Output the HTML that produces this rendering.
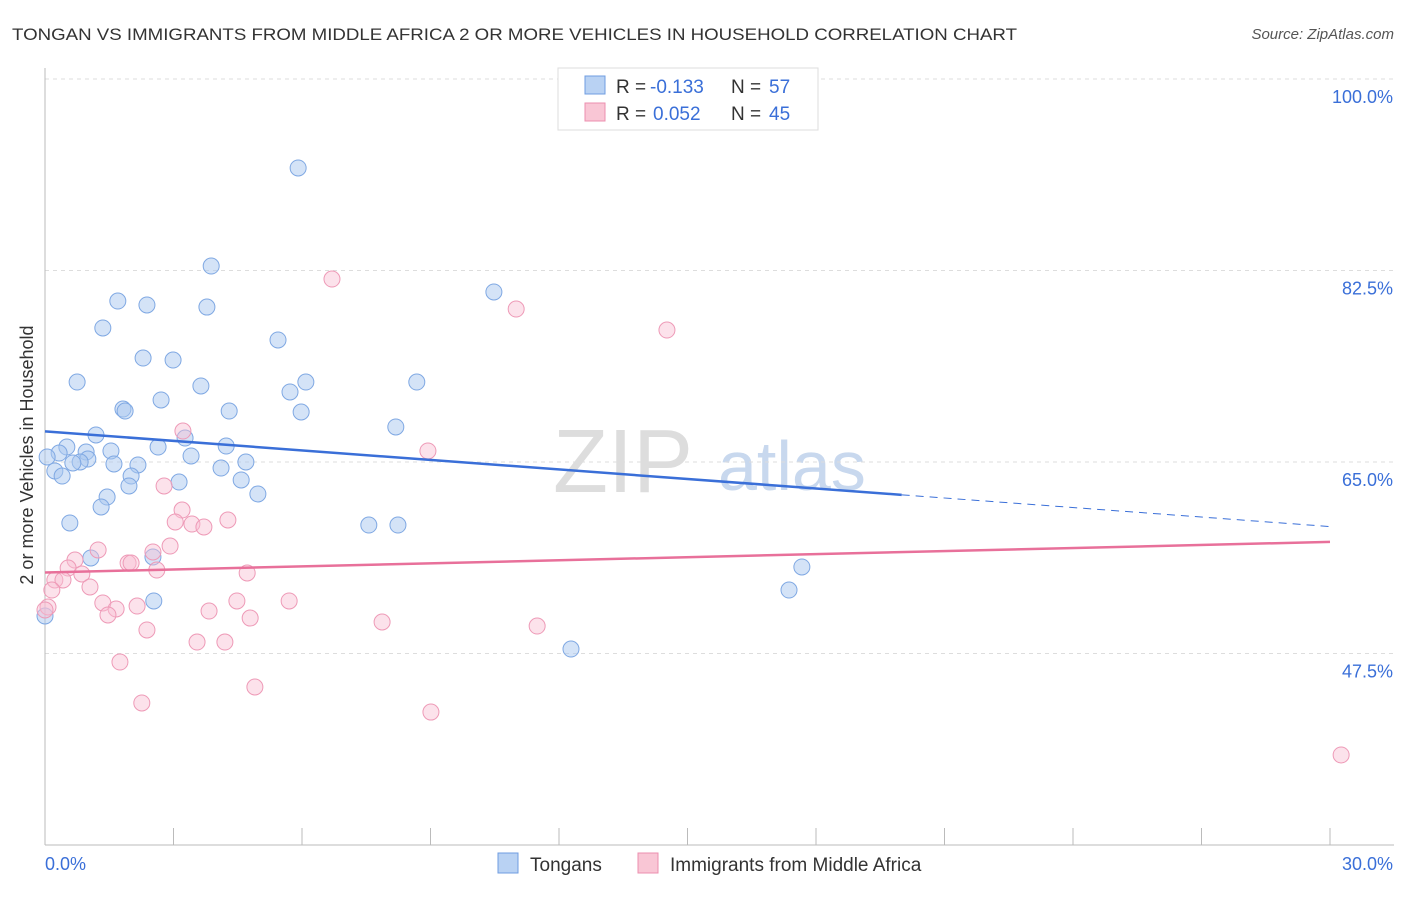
<!DOCTYPE html>
<html><head><meta charset="utf-8"><style>
body{margin:0;background:#fff;font-family:"Liberation Sans",sans-serif}
svg text{font-family:"Liberation Sans",sans-serif}
</style></head><body>
<svg width="1406" height="892">
<text x="12" y="40" font-size="17" fill="#333" textLength="1005" lengthAdjust="spacingAndGlyphs">TONGAN VS IMMIGRANTS FROM MIDDLE AFRICA 2 OR MORE VEHICLES IN HOUSEHOLD CORRELATION CHART</text>
<text x="1394" y="39" font-size="15" fill="#555" font-style="italic" text-anchor="end">Source: ZipAtlas.com</text>
<text x="553" y="492" font-size="90" fill="#ddd" font-family="Liberation Serif">ZIP</text>
<text x="718" y="490" font-size="70" fill="#c8d8ee">atlas</text>
<g id="grid"></g><g id="axes"></g><g id="pts"></g><g id="lines"></g>
<text transform="translate(33,455) rotate(-90)" font-size="18" fill="#333" text-anchor="middle">2 or more Vehicles in Household</text>
<text x="45" y="870" font-size="18" fill="#3a6fd8">0.0%</text>
<text x="1393" y="870" font-size="18" fill="#3a6fd8" text-anchor="end">30.0%</text>
<g>
<rect x="558" y="68" width="260" height="62" fill="#fff" stroke="#ddd"/>
<rect x="585" y="76" width="20" height="18" fill="#b9d2f3" stroke="#6f9ce0"/>
<rect x="585" y="103" width="20" height="18" fill="#f9c6d5" stroke="#ec8faf"/>
<text x="616" y="93" font-size="19" fill="#333">R =</text>
<text x="650" y="93" font-size="19" fill="#3a6fd8">-0.133</text>
<text x="731" y="93" font-size="19" fill="#333">N =</text>
<text x="769" y="93" font-size="19" fill="#3a6fd8">57</text>
<text x="616" y="120" font-size="19" fill="#333">R =</text>
<text x="653" y="120" font-size="19" fill="#3a6fd8">0.052</text>
<text x="731" y="120" font-size="19" fill="#333">N =</text>
<text x="769" y="120" font-size="19" fill="#3a6fd8">45</text>
</g>
<g>
<rect x="498" y="853" width="20" height="20" fill="#b9d2f3" stroke="#6f9ce0"/>
<text x="530" y="871" font-size="19" fill="#333">Tongans</text>
<rect x="638" y="853" width="20" height="20" fill="#f9c6d5" stroke="#ec8faf"/>
<text x="670" y="871" font-size="19" fill="#333">Immigrants from Middle Africa</text>
</g>
</svg>
<script>
const yTicks=[100,82.5,65,47.5];
const xTicks=[0,3,6,9,12,15,18,21,24,27,30];
const bluePx=[[298,168],[211,266],[494,292],[118,301],[147,305],[207,307],[103,328],[278,340],[143,358],[173,360],[77,382],[201,386],[306,382],[417,382],[290,392],[161,400],[123,409],[125,411],[229,411],[301,412],[396,427],[96,435],[185,438],[67,447],[59,453],[158,447],[226,446],[111,451],[86,452],[88,459],[80,462],[73,463],[47,457],[114,464],[138,465],[191,456],[246,462],[55,471],[62,476],[221,468],[131,476],[241,480],[179,482],[129,486],[258,494],[107,497],[101,507],[70,523],[369,525],[398,525],[91,558],[153,557],[802,567],[789,590],[154,601],[571,649],[45,616]];
const pinkPx=[[332,279],[516,309],[667,330],[183,431],[428,451],[164,486],[182,510],[175,522],[228,520],[192,524],[204,527],[170,546],[98,550],[153,552],[75,560],[128,563],[131,563],[68,568],[157,570],[247,573],[55,580],[82,574],[63,580],[90,587],[52,590],[48,607],[237,601],[289,601],[103,603],[137,606],[116,609],[209,611],[108,615],[250,618],[382,622],[537,626],[147,630],[197,642],[225,642],[120,662],[255,687],[142,703],[431,712],[1341,755],[45,610]];
const blueX=bluePx.map(p=>+((p[0]-45)/1285*30).toFixed(2));
const blueY=bluePx.map(p=>+(100-(p[1]-79)/10.943).toFixed(2));
const pinkX=pinkPx.map(p=>+((p[0]-45)/1285*30).toFixed(2));
const pinkY=pinkPx.map(p=>+(100-(p[1]-79)/10.943).toFixed(2));
const blueTrend=[67.8,62.0,59.1];
const pinkTrend=[54.9,57.7];
const X=v=>45+v/30*1285, Y=v=>79+(100-v)*10.943;
const NS="http://www.w3.org/2000/svg";
function mk(tag,attrs,parent){const e=document.createElementNS(NS,tag);for(const k in attrs)e.setAttribute(k,attrs[k]);document.getElementById(parent).appendChild(e);return e;}
yTicks.forEach(t=>{
 const l=mk('line',{x1:45,x2:1394,y1:Y(t),y2:Y(t),stroke:'#ddd','stroke-dasharray':'4,4'},'grid');
 
 
 const tx=mk('text',{x:1393,y:Y(t)+24,'font-size':18,fill:'#3a6fd8','text-anchor':'end'},'grid');
 tx.textContent=t.toFixed(1)+'%';
 
 
});
const ax=mk('line',{x1:45,x2:1394,y1:845,y2:845,stroke:'#bbb'},'axes');


const ay=mk('line',{x1:45,x2:45,y1:68,y2:845,stroke:'#bbb'},'axes');


xTicks.forEach(t=>{
 const l=mk('line',{x1:X(t),x2:X(t),y1:828,y2:845,stroke:'#bbb'},'axes');
 
 
});
blueX.forEach((x,i)=>{
 const c=mk('circle',{cx:X(x),cy:Y(blueY[i]),r:8,fill:'rgba(170,200,240,0.5)',stroke:'#7fa8e3','stroke-width':1},'pts');
 
 
});
pinkX.forEach((x,i)=>{
 const c=mk('circle',{cx:X(x),cy:Y(pinkY[i]),r:8,fill:'rgba(248,190,210,0.45)',stroke:'#ee9ab7','stroke-width':1},'pts');
 
 
});
const b1=mk('line',{x1:X(0),y1:Y(blueTrend[0]),x2:X(20),y2:Y(blueTrend[1]),stroke:'#3a6fd8','stroke-width':2.5},'lines');


const b2=mk('line',{x1:X(20),y1:Y(blueTrend[1]),x2:X(30),y2:Y(blueTrend[2]),stroke:'#3a6fd8','stroke-width':1,'stroke-dasharray':'8,6'},'lines');


const p1=mk('line',{x1:X(0),y1:Y(pinkTrend[0]),x2:X(30),y2:Y(pinkTrend[1]),stroke:'#e8709a','stroke-width':2.5},'lines');


</script>
</body></html>
